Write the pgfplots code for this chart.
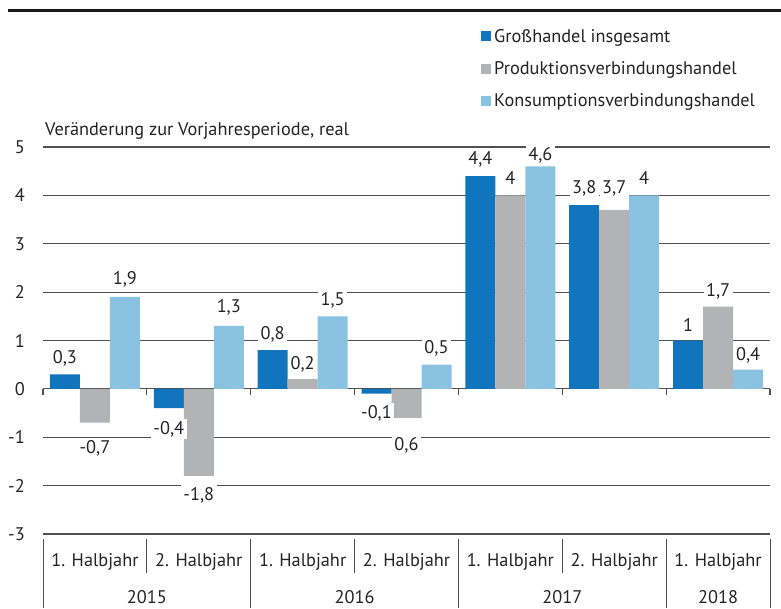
\documentclass[border=0pt]{standalone}
\usepackage{pgfplots}
\pgfplotsset{compat=1.18}
\usepackage{pgfplotstable}
\usepackage{fontspec}
\setmainfont{PT Sans}
\definecolor{cA}{RGB}{16,117,188}
\definecolor{cB}{RGB}{177,179,180}
\definecolor{cC}{RGB}{138,194,225}
\definecolor{gridc}{RGB}{80,80,80}
\definecolor{txt}{RGB}{35,35,35}
\newcommand{\fs}{\fontsize{18.3pt}{21pt}\selectfont}

\pgfplotstableread{
x y label dy
0 0.3 0,3 11
1 -0.4 -0,4 -26
2 0.8 0,8 11
3 -0.1 -0,1 -25
4 4.4 4,4 12
5 3.8 3,8 11.5
6 1 1 9
}\tA
\pgfplotstableread{
x y label dy
0 -0.7 -0,7 -31
1 -1.8 -1,8 -25
2 0.2 0,2 10
3 -0.6 0,6 -33
4 4 4 11
5 3.7 3,7 16
6 1.7 1,7 10
}\tB
\pgfplotstableread{
x y label dy
0 1.9 1,9 12
1 1.3 1,3 13
2 1.5 1,5 10.5
3 0.5 0,5 11
4 4.6 4,6 6
5 4 4 11
6 0.4 0,4 9
}\tC

\begin{document}
\begin{tikzpicture}[font=\fs]
\path[use as bounding box] (0pt,0pt) rectangle (781pt,-608pt);
\draw[line width=3pt, black!90] (7.5pt,-10pt) -- (781pt,-10pt);
\begin{axis}[
  at={(43pt,-534pt)}, anchor=south west,
  scale only axis, width=727pt, height=387pt,
  xmin=-0.5, xmax=6.5, ymin=-3, ymax=5,
  ybar=0pt, bar width=30pt,
  clip=false,
  axis line style={draw=none},
  major tick length=0pt,
  ytick={-3,-2,-1,0,1,2,3,4,5},
  yticklabels={-3,-2,-1,0,1,2,3,4,5},
  ymajorgrids, grid style={gridc, line width=1.1pt},
  xtick={0,1,2,3,4,5,6},
  xticklabels={1. Halbjahr,2. Halbjahr,1. Halbjahr,2. Halbjahr,1. Halbjahr,2. Halbjahr,1. Halbjahr},
  tick label style={font=\fs, text=txt},
  yticklabel style={anchor=east, inner sep=0pt, xshift=-18pt},
  xticklabel style={anchor=base, inner sep=0pt, yshift=-32pt},
  nodes near coords,
  point meta=explicit symbolic,
  visualization depends on={\thisrow{dy} \as \dy},
  nodes near coords style={font=\fs, text=txt, fill=white, inner sep=2.5pt, anchor=base, yshift=\dy},
  legend style={at={(axis description cs:0.6025,1.308)}, anchor=north west, draw=none, fill=none,
    inner sep=0pt, row sep=16pt, font=\fs, text=txt, nodes={inner sep=1pt},
    /tikz/every odd column/.append style={column sep=2pt}},
  legend cell align=left,
  legend image code/.code={\fill[#1] (0pt,-5pt) rectangle (10pt,5pt);},
]
\addplot[fill=cA, draw=none] table[x=x, y=y, meta=label]{\tA};
\addplot[fill=cB, draw=none] table[x=x, y=y, meta=label]{\tB};
\addplot[fill=cC, draw=none] table[x=x, y=y, meta=label]{\tC};
\legend{Großhandel insgesamt, Produktionsverbindungshandel, Konsumptionsverbindungshandel}
\pgfplotsinvokeforeach{-0.5,0.5,1.5,2.5,3.5,4.5,5.5,6.5}{
  \draw[gridc, line width=1.1pt] (axis cs:#1,0) -- ([yshift=-6pt]axis cs:#1,0);
}
\pgfplotsinvokeforeach{-0.5,1.5,3.5,5.5,6.5}{
  \draw[gridc, line width=0.9pt] ([yshift=-5pt]axis cs:#1,-3) -- ([yshift=-74pt]axis cs:#1,-3);
}
\pgfplotsinvokeforeach{0.5,2.5,4.5}{
  \draw[gridc, line width=0.9pt] ([yshift=-5pt]axis cs:#1,-3) -- ([yshift=-39pt]axis cs:#1,-3);
}
\node[anchor=base, inner sep=0pt, text=txt, yshift=-69pt] at (axis cs:0.5,-3) {2015};
\node[anchor=base, inner sep=0pt, text=txt, yshift=-69pt] at (axis cs:2.5,-3) {2016};
\node[anchor=base, inner sep=0pt, text=txt, yshift=-69pt] at (axis cs:4.5,-3) {2017};
\node[anchor=base, inner sep=0pt, text=txt, yshift=-69pt] at (axis cs:6,-3) {2018};
\node[anchor=base west, inner sep=0pt, text=txt, xshift=2pt, yshift=12pt] at (axis description cs:0,1) {Veränderung zur Vorjahresperiode, real};
\end{axis}
\end{tikzpicture}
\end{document}
